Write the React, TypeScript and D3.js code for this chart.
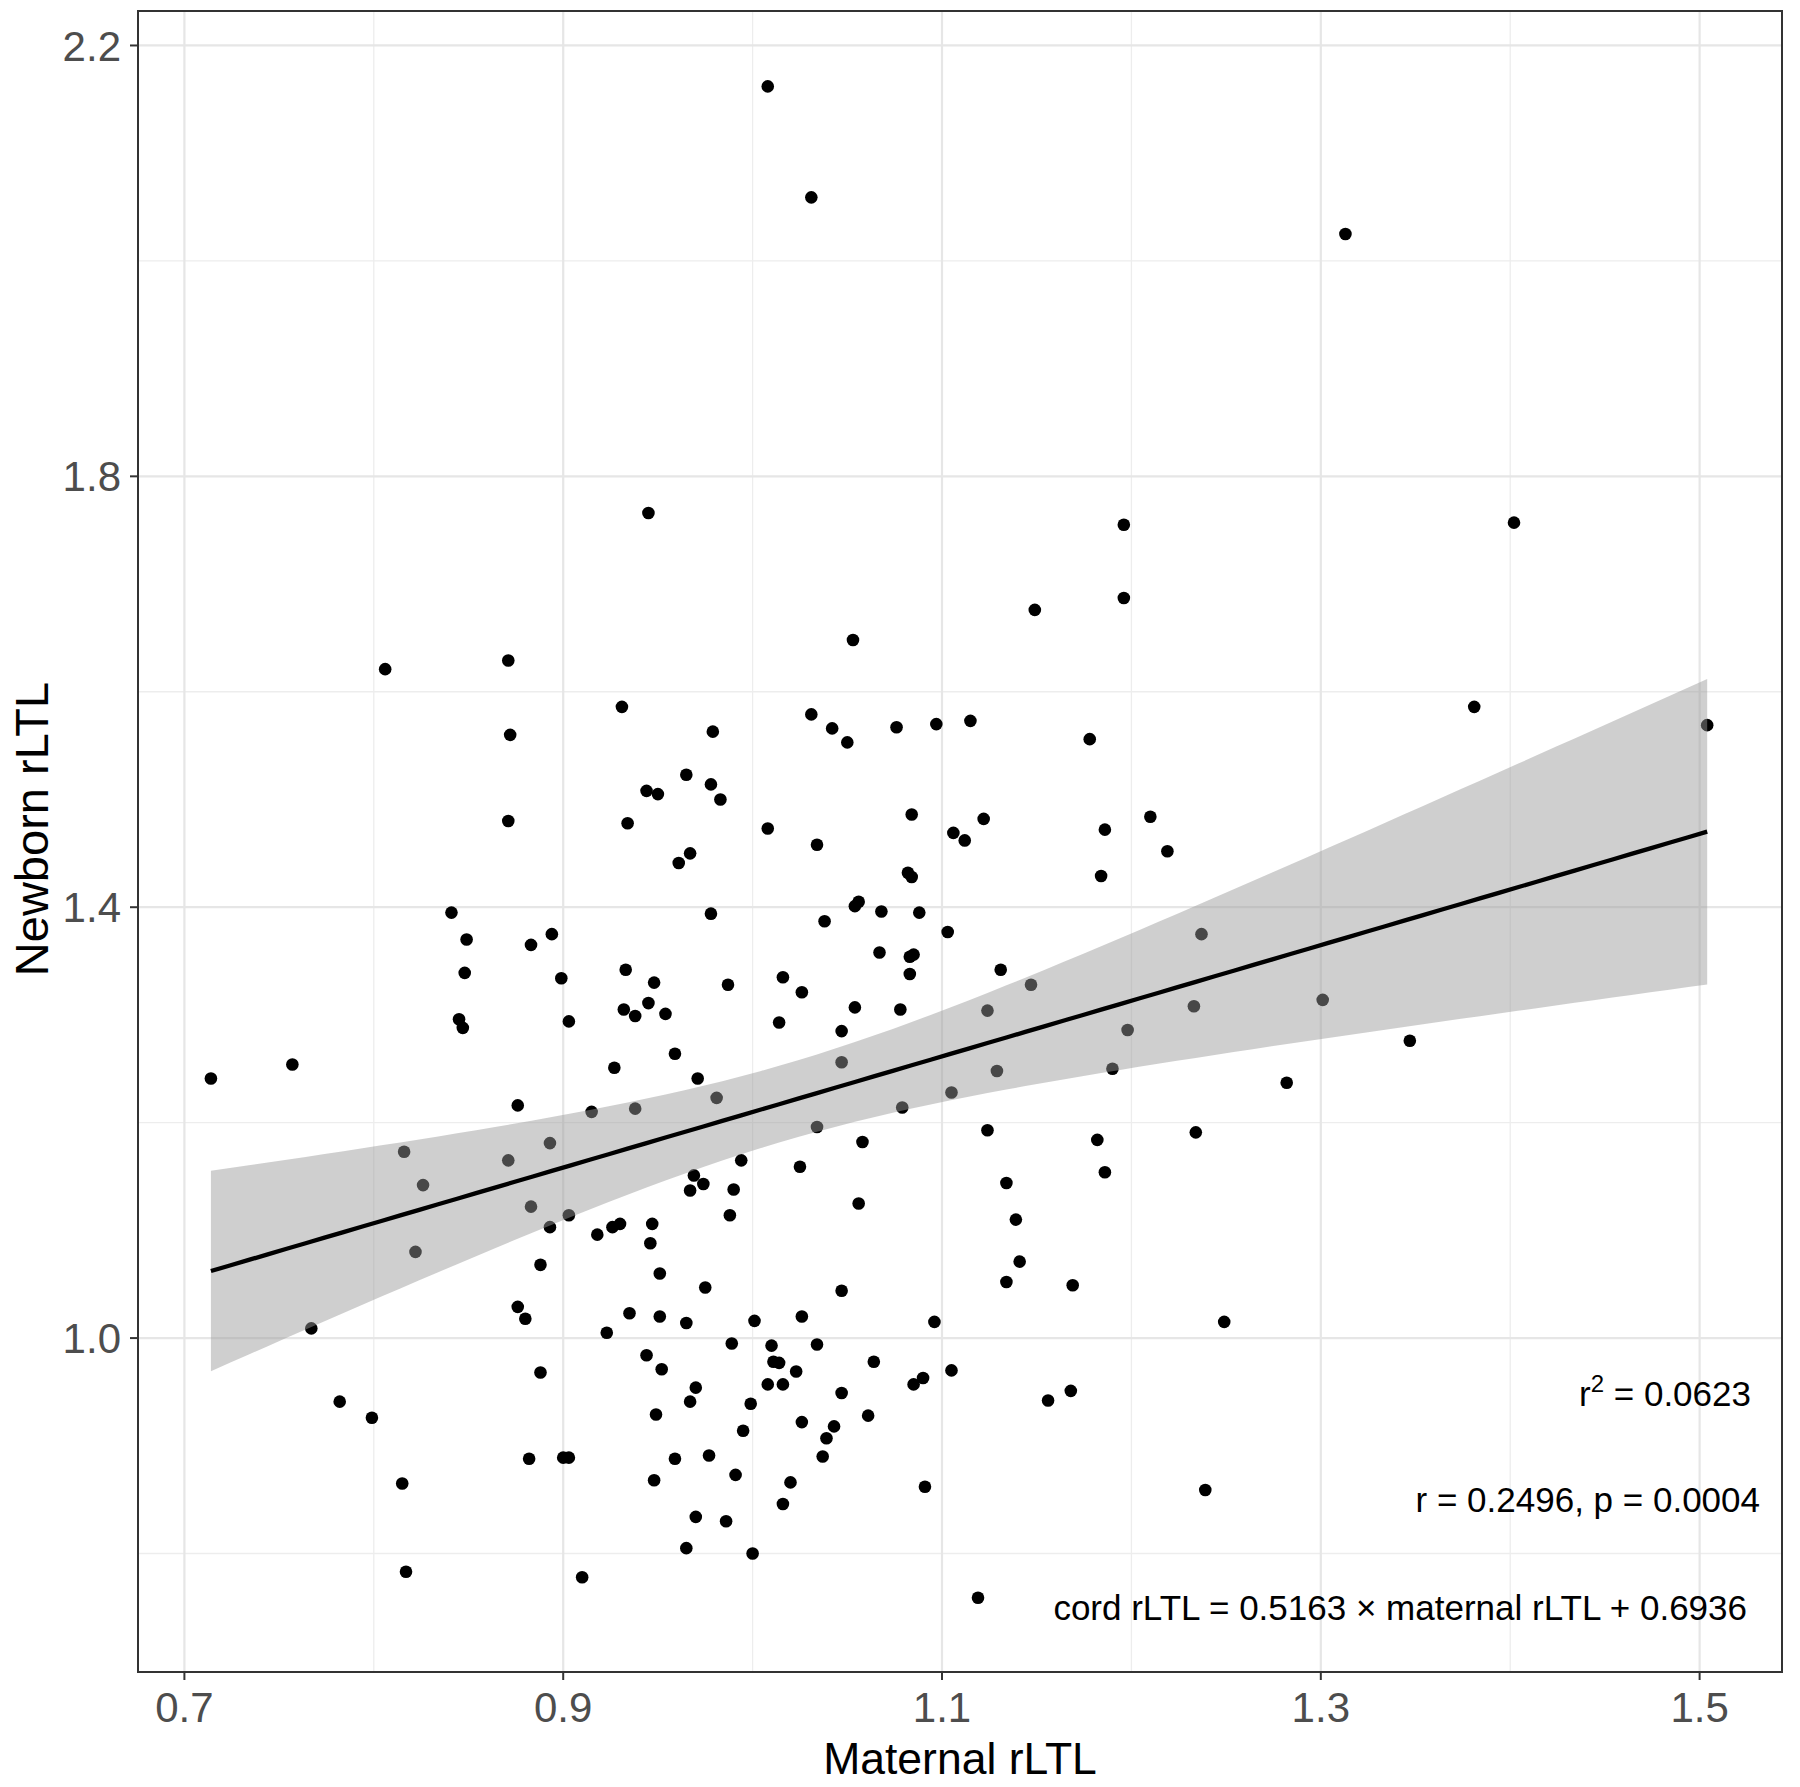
import React from 'react';
import * as d3 from 'd3';

// Maternal rLTL (x) and Newborn rLTL (y)
const maternal = [
  1.008, 1.031, 1.313, 1.196, 1.402, 1.196, 1.149, 1.381, 1.504, 1.301, 1.347, 1.282, 0.714, 0.757, 0.767, 0.782, 0.799, 0.945,
  0.806, 0.871, 0.931, 1.031, 0.872, 0.979, 0.965, 0.978, 0.944, 0.950, 0.983, 0.871, 0.934, 1.008, 1.034, 0.967, 0.961, 0.841, 0.978, 0.849, 0.883, 0.894,
  1.053, 1.042, 1.050, 1.076, 1.097, 1.115, 1.178, 1.084, 1.122, 1.106, 1.112, 1.186, 1.210, 1.219, 1.184, 1.082, 1.084, 1.054, 1.056, 1.068, 1.088, 1.038, 1.103, 1.237, 1.067, 1.083, 1.085,
  0.848, 0.899, 0.933, 0.948, 0.987, 1.016, 1.026, 0.845, 0.847, 0.903, 0.932, 0.938, 0.945, 0.954, 1.014, 0.959, 0.927, 0.971, 0.981, 0.876, 0.915, 0.938, 0.893, 0.816, 0.871, 0.826, 1.034, 0.994, 1.025, 0.969, 0.974, 0.967, 0.990, 0.883, 0.903, 0.988, 0.893, 0.926, 0.930, 0.947, 0.918, 0.946, 0.822, 0.888, 0.951, 0.975,
  1.083, 1.131, 1.147, 1.054, 1.078, 1.124, 1.047, 1.233, 1.198, 1.047, 1.129, 1.190, 1.105, 1.079, 1.058, 1.124, 1.182, 1.234, 1.186, 1.134, 1.056, 1.139, 1.141, 1.134, 1.169, 1.047,
  0.876, 0.880, 0.935, 0.951, 0.965, 0.923, 1.001, 1.026, 0.989, 1.010, 1.034, 0.944, 0.952, 1.011, 1.014, 1.023, 0.888, 1.008, 1.016, 0.970, 0.967, 0.999, 0.949, 1.026, 0.995, 0.882, 0.900, 0.903, 0.959, 0.977, 0.991, 0.948, 1.020, 0.815, 1.016, 0.970, 0.986, 0.965, 1.000, 0.817, 0.910,
  1.096, 1.249, 1.064, 1.085, 1.090, 1.105, 1.047, 1.061, 1.043, 1.039, 1.037, 1.156, 1.168, 1.091, 1.239, 1.119,
];
const newborn = [
  2.162, 2.059, 2.025, 1.755, 1.757, 1.687, 1.676, 1.586, 1.569, 1.314, 1.276, 1.237, 1.241, 1.254, 1.009, 0.941, 0.926, 1.766,
  1.621, 1.629, 1.586, 1.579, 1.560, 1.563, 1.523, 1.514, 1.508, 1.505, 1.500, 1.480, 1.478, 1.473, 1.458, 1.450, 1.441, 1.395, 1.394, 1.370, 1.365, 1.375,
  1.648, 1.566, 1.553, 1.567, 1.570, 1.573, 1.556, 1.486, 1.482, 1.469, 1.462, 1.472, 1.484, 1.452, 1.429, 1.432, 1.428, 1.401, 1.405, 1.396, 1.395, 1.387, 1.377, 1.375, 1.358, 1.354, 1.356,
  1.339, 1.334, 1.342, 1.330, 1.328, 1.335, 1.321, 1.296, 1.288, 1.294, 1.305, 1.299, 1.311, 1.301, 1.293, 1.264, 1.251, 1.241, 1.223, 1.216, 1.210, 1.213, 1.181, 1.173, 1.165, 1.142, 1.196, 1.165, 1.159, 1.151, 1.143, 1.137, 1.138, 1.122, 1.114, 1.114, 1.103, 1.103, 1.106, 1.106, 1.096, 1.088, 1.080, 1.068, 1.060, 1.047,
  1.338, 1.342, 1.328, 1.307, 1.305, 1.304, 1.285, 1.308, 1.286, 1.256, 1.248, 1.250, 1.228, 1.214, 1.182, 1.193, 1.184, 1.191, 1.154, 1.144, 1.125, 1.110, 1.071, 1.052, 1.049, 1.044,
  1.029, 1.018, 1.023, 1.020, 1.014, 1.005, 1.016, 1.020, 0.995, 0.993, 0.994, 0.984, 0.971, 0.978, 0.977, 0.969, 0.968, 0.957, 0.957, 0.954, 0.941, 0.939, 0.929, 0.922, 0.914, 0.888, 0.889, 0.889, 0.888, 0.891, 0.873, 0.868, 0.866, 0.865, 0.846, 0.834, 0.830, 0.805, 0.800, 0.783, 0.778,
  1.015, 1.015, 0.978, 0.957, 0.963, 0.970, 0.949, 0.928, 0.918, 0.907, 0.890, 0.942, 0.951, 0.862, 0.859, 0.759,
];

// fitted model as printed on the chart
const fitSlope = 0.5163;
const fitIntercept = 0.6936;

const xMajor = [0.7, 0.9, 1.1, 1.3, 1.5];
const xMinor = [0.8, 1.0, 1.2, 1.4];
const yMajor = [1.0, 1.4, 1.8, 2.2];
const yMinor = [0.8, 1.2, 1.6, 2.0];
const xDomain = [0.6755, 1.5435];
const yDomain = [0.69, 2.232];
const xTitle = 'Maternal rLTL';
const yTitle = 'Newborn rLTL';
const statR2 = '0.0623';
const statR = 'r = 0.2496, p = 0.0004';
const statEq = 'cord rLTL = 0.5163 \u00d7 maternal rLTL + 0.6936';

const W = 1800;
const H = 1787;
const L = 138, R = 1782, T = 11, B = 1672;
const FONT = '"Liberation Sans", Arial, Helvetica, sans-serif';

export default function App() {
  const x = d3.scaleLinear().domain(xDomain).range([L, R]);
  const y = d3.scaleLinear().domain(yDomain).range([B, T]);
  const pts = maternal.map((m, i) => [m, newborn[i]] as [number, number]);

  // 95% confidence band around the linear fit (as geom_smooth(method = "lm"))
  const n = pts.length;
  const mx = d3.mean(maternal) as number;
  let sxx = 0;
  pts.forEach(([a]) => { sxx += (a - mx) ** 2; });
  let sse = 0;
  pts.forEach(([a, b]) => { sse += (b - (fitIntercept + fitSlope * a)) ** 2; });
  const s = Math.sqrt(sse / (n - 2));
  const tq = 1.972;
  const [xmin, xmax] = d3.extent(maternal) as [number, number];
  const grid = d3.range(80).map(i => xmin + (i / 79) * (xmax - xmin));
  const band = grid.map(g => {
    const fit = fitIntercept + fitSlope * g;
    const se = s * Math.sqrt(1 / n + (g - mx) ** 2 / sxx);
    return { g, fit, lo: fit - tq * se, hi: fit + tq * se };
  });
  const area = d3.area<any>().x(d => x(d.g)).y0(d => y(d.lo)).y1(d => y(d.hi));
  const line = d3.line<any>().x(d => x(d.g)).y(d => y(d.fit));

  return (
    <svg width={W} height={H} style={{ position: 'absolute', left: 0, top: 0, background: '#fff' }} fontFamily={FONT}>
      <rect x={0} y={0} width={W} height={H} fill="#fff" />
      {/* grid */}
      {xMinor.map(v => <line key={'xm' + v} x1={x(v)} x2={x(v)} y1={T} y2={B} stroke="#ededed" strokeWidth={1.3} />)}
      {yMinor.map(v => <line key={'ym' + v} y1={y(v)} y2={y(v)} x1={L} x2={R} stroke="#ededed" strokeWidth={1.3} />)}
      {xMajor.map(v => <line key={'xM' + v} x1={x(v)} x2={x(v)} y1={T} y2={B} stroke="#e6e6e6" strokeWidth={2.2} />)}
      {yMajor.map(v => <line key={'yM' + v} y1={y(v)} y2={y(v)} x1={L} x2={R} stroke="#e6e6e6" strokeWidth={2.2} />)}
      {/* points */}
      {pts.map(([a, b], i) => <circle key={i} cx={x(a)} cy={y(b)} r={6.3} fill="#000" />)}
      {/* confidence band and fit */}
      <path d={area(band) as string} fill="#999999" fillOpacity={0.47} />
      <path d={line(band) as string} fill="none" stroke="#000" strokeWidth={4.3} />
      {/* panel border */}
      <rect x={L} y={T} width={R - L} height={B - T} fill="none" stroke="#333" strokeWidth={2} />
      {/* ticks */}
      {xMajor.map(v => <line key={'xt' + v} x1={x(v)} x2={x(v)} y1={B} y2={B + 8} stroke="#333" strokeWidth={2} />)}
      {yMajor.map(v => <line key={'yt' + v} y1={y(v)} y2={y(v)} x1={L - 8} x2={L} stroke="#333" strokeWidth={2} />)}
      {xMajor.map(v => (
        <text key={'xl' + v} x={x(v)} y={1722} textAnchor="middle" fontSize={42} fill="#4d4d4d">{v.toFixed(1)}</text>
      ))}
      {yMajor.map(v => (
        <text key={'yl' + v} x={121} y={y(v)} dy="0.36em" textAnchor="end" fontSize={42} fill="#4d4d4d">{v.toFixed(1)}</text>
      ))}
      {/* titles */}
      <text x={(L + R) / 2} y={1774} textAnchor="middle" fontSize={44.5} fill="#000">{xTitle}</text>
      <text transform={`translate(48, 829) rotate(-90)`} textAnchor="middle" fontSize={47} fill="#000">{yTitle}</text>
      {/* stats */}
      <text x={1751} y={1406} textAnchor="end" fontSize={35} fill="#000">
        r<tspan dy={-14} fontSize={24}>2</tspan><tspan dy={14}>{' = ' + statR2}</tspan>
      </text>
      <text x={1760} y={1512} textAnchor="end" fontSize={35} fill="#000">{statR}</text>
      <text x={1747} y={1620} textAnchor="end" fontSize={35} fill="#000">{statEq}</text>
    </svg>
  );
}
